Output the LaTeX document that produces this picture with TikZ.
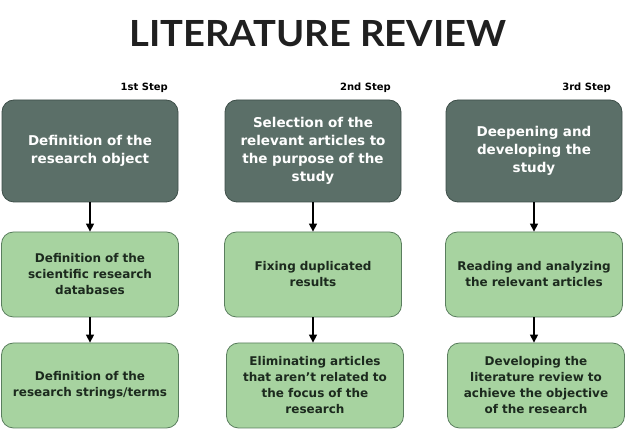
\documentclass[tikz,border=0pt]{standalone}
\usepackage{fontspec}
\setmainfont{DejaVu Sans}
\newfontfamily\titlefont{Lato}
\usetikzlibrary{arrows.meta}
\definecolor{darkbox}{HTML}{5B6F68}
\definecolor{darkedge}{HTML}{3E4F49}
\definecolor{lightbox}{HTML}{A7D3A0}
\definecolor{lightedge}{HTML}{5A7E5E}
\definecolor{boxtext}{HTML}{1C2A1E}
\definecolor{titlecol}{HTML}{202020}
\begin{document}
\begin{tikzpicture}[x=1pt,y=-1pt,
  topbox/.style={draw=darkedge, line width=0.8pt, fill=darkbox, rounded corners=12pt,
    minimum width=176pt, minimum height=102pt, text width=165pt, align=center,
    text=white, font=\bfseries\fontsize{13.5}{18}\selectfont, inner sep=0pt},
  lowbox/.style={draw=lightedge, line width=0.8pt, fill=lightbox, rounded corners=12pt,
    minimum width=177pt, minimum height=85pt, text width=165pt, align=center,
    text=boxtext, font=\bfseries\fontsize{12}{16}\selectfont, inner sep=0pt},
  steplabel/.style={font=\bfseries\fontsize{10}{12}\selectfont, anchor=east, inner sep=0pt},
  flow/.style={-{Triangle[width=8pt,length=8pt]}, line width=1.4pt, black}]
\useasboundingbox (0,0) rectangle (625,430);
\fill[white] (0,0) rectangle (625,430);

\node[inner sep=0pt, text=titlecol] (title) at (318,34) {\resizebox{377pt}{26pt}{\titlefont\bfseries LITERATURE REVIEW}};

\node[steplabel] (s1) at (168,88) {1st Step};
\node[steplabel] (s2) at (391,88) {2nd Step};
\node[steplabel] (s3) at (611,88) {3rd Step};

\node[topbox] (t1) at (90,151) {Definition of the\\research object};
\node[topbox] (t2) at (313,151) {Selection of the\\relevant articles to\\the purpose of the\\study};
\node[topbox] (t3) at (534,151) {Deepening and\\developing the\\study};

\node[lowbox] (m1) at (90,274.5) {Definition of the\\scientific research\\databases};
\node[lowbox] (m2) at (313,274.5) {Fixing duplicated\\results};
\node[lowbox] (m3) at (534,274.5) {Reading and analyzing\\the relevant articles};

\node[lowbox] (b1) at (90,385.5) {Definition of the\\research strings/terms};
\node[lowbox] (b2) at (315,385.5) {Eliminating articles\\that aren’t related to\\the focus of the\\research};
\node[lowbox] (b3) at (536,385.5) {Developing the\\literature review to\\achieve the objective\\of the research};

\draw[flow] (t1.south) -- (m1.north);
\draw[flow] (m1.south) -- (b1.north);
\draw[flow] (t2.south) -- (m2.north);
\draw[flow] (m2.south) -- (m2.south |- b2.north);
\draw[flow] (t3.south) -- (m3.north);
\draw[flow] (m3.south) -- (m3.south |- b3.north);
\end{tikzpicture}
\end{document}
